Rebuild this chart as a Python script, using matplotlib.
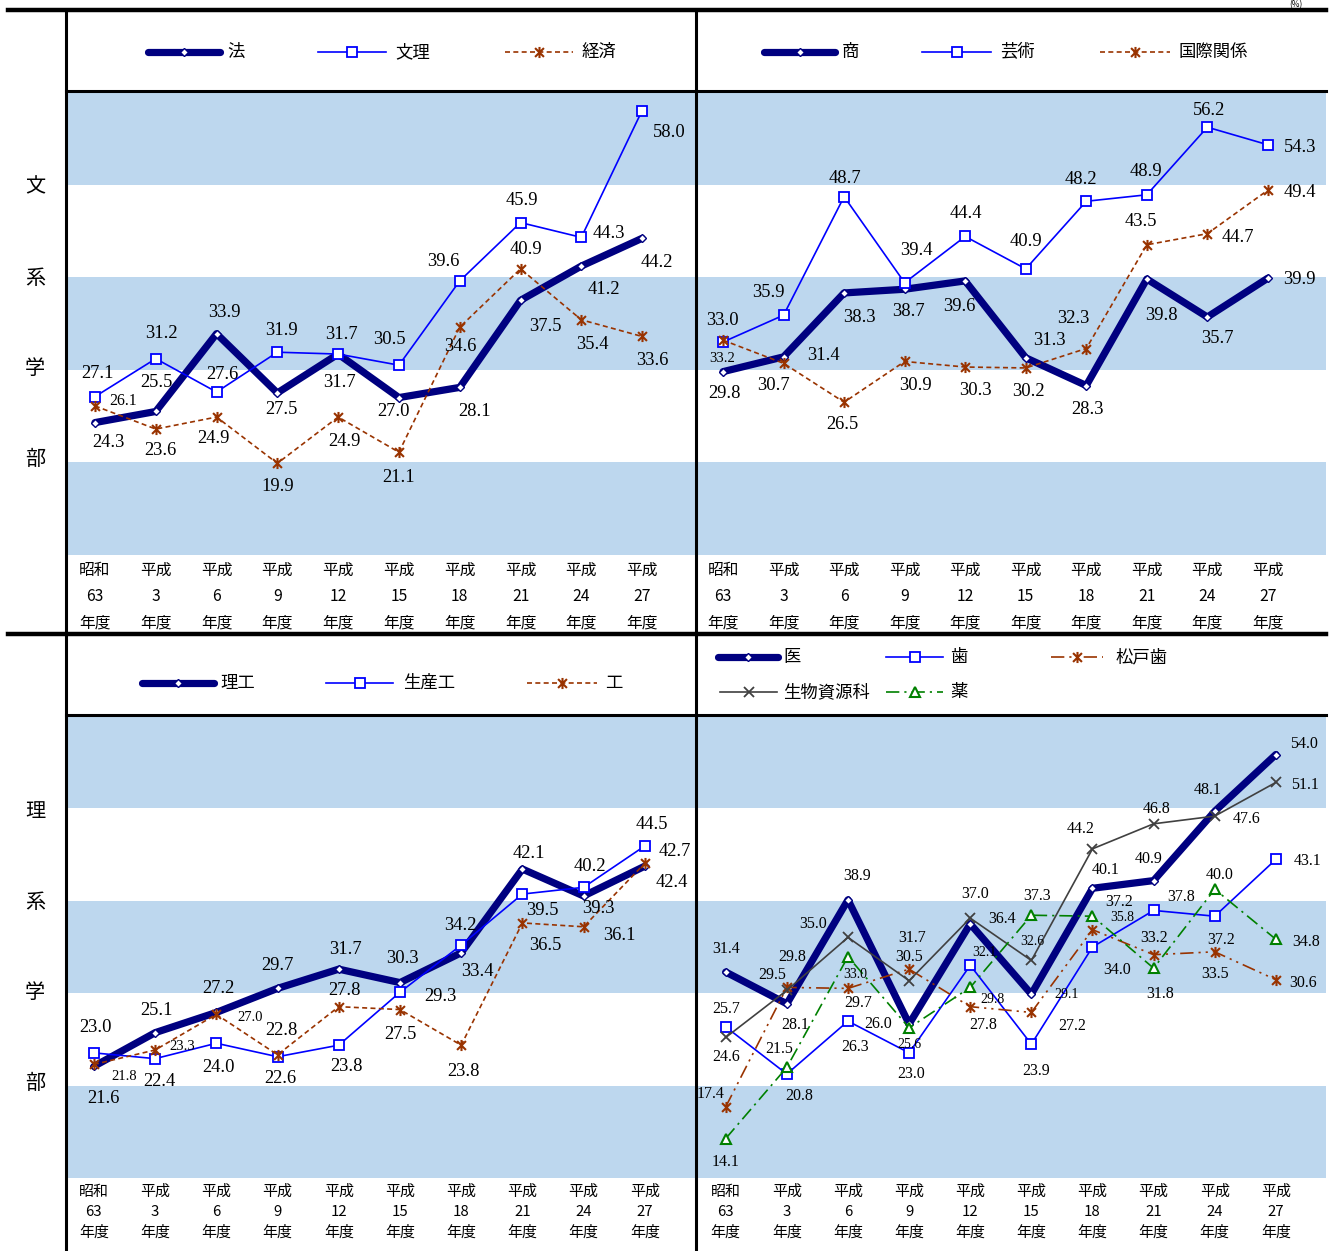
import matplotlib
matplotlib.use('Agg')
import matplotlib.pyplot as plt
from matplotlib.lines import Line2D
from matplotlib.patches import Rectangle
from matplotlib.path import Path

plt.rcParams['font.family'] = ['Noto Sans CJK JP', 'DejaVu Sans']

W, H = 1334, 1251
DPI = 100

# ---------------- data ----------------
years = ['昭和\n63\n年度', '平成\n3\n年度', '平成\n6\n年度', '平成\n9\n年度', '平成\n12\n年度',
         '平成\n15\n年度', '平成\n18\n年度', '平成\n21\n年度', '平成\n24\n年度', '平成\n27\n年度']

# 文系 (left)
hou = [24.3, 25.5, 33.9, 27.5, 31.7, 27.0, 28.1, 37.5, 41.2, 44.2]
bunri = [27.1, 31.2, 27.6, 31.9, 31.7, 30.5, 39.6, 45.9, 44.3, 58.0]
keizai = [26.1, 23.6, 24.9, 19.9, 24.9, 21.1, 34.6, 40.9, 35.4, 33.6]
# 文系 (right)
shou = [29.8, 31.4, 38.3, 38.7, 39.6, 31.3, 28.3, 39.8, 35.7, 39.9]
geijutsu = [33.0, 35.9, 48.7, 39.4, 44.4, 40.9, 48.2, 48.9, 56.2, 54.3]
kokusai = [33.2, 30.7, 26.5, 30.9, 30.3, 30.2, 32.3, 43.5, 44.7, 49.4]
# 理系 (left)
riko = [21.6, 25.1, 27.2, 29.7, 31.7, 30.3, 33.4, 42.1, 39.3, 42.4]
seisanko = [23.0, 22.4, 24.0, 22.6, 23.8, 29.3, 34.2, 39.5, 40.2, 44.5]
ko = [21.8, 23.3, 27.0, 22.8, 27.8, 27.5, 23.8, 36.5, 36.1, 42.7]
# 理系 (right)
igaku = [31.4, 28.1, 38.9, 26.0, 36.4, 29.1, 40.1, 40.9, 48.1, 54.0]
shika = [25.7, 20.8, 26.3, 23.0, 32.1, 23.9, 34.0, 37.8, 37.2, 43.1]
matsudo = [17.4, 29.8, 29.7, 31.7, 27.8, 27.2, 35.8, 33.2, 33.5, 30.6]
seibutsu = [24.6, 29.5, 35.0, 30.5, 37.0, 32.6, 44.2, 46.8, 47.6, 51.1]
yaku = [14.1, 21.5, 33.0, 25.6, 29.8, 37.3, 37.2, 31.8, 40.0, 34.8]

# ---------------- styles ----------------
NAVY = '#000080'
BLUE = '#0000FF'
BROWN = '#993300'
GRAY = '#404040'
GREEN = '#008000'
BAND = '#BDD7EE'
AST = Path([(-1, -1), (1, 1), (-1, 1), (1, -1), (0, -1.25), (0, 1.25)],
           [Path.MOVETO, Path.LINETO, Path.MOVETO, Path.LINETO, Path.MOVETO, Path.LINETO])

S_THICK = dict(color=NAVY, lw=5.2, marker='D', ms=4, mfc='white', mec=NAVY, mew=1.0,
               solid_capstyle='round')
S_BLUE = dict(color=BLUE, lw=1.2, marker='s', ms=6.5, mfc='white', mec=BLUE, mew=1.3)
S_BROWN = dict(color=BROWN, lw=1.2, ls=(0, (3, 2)), marker=AST, ms=8, mfc='none', mec=BROWN, mew=1.5)
S_GRAY = dict(color=GRAY, lw=1.2, marker='x', ms=7.5, mec=GRAY, mew=1.3)
S_MATSUDO = dict(color=BROWN, lw=1.2, ls=(0, (8, 3, 1.3, 3, 1.3, 3)), marker=AST, ms=8, mfc='none',
                 mec=BROWN, mew=1.5)
S_GREEN = dict(color=GREEN, lw=1.2, ls=(0, (8, 3, 1.3, 3)), marker='^', ms=6.5, mfc='white', mec=GREEN, mew=1.5)

SERIF = ['Liberation Serif', 'DejaVu Serif']

fig = plt.figure(figsize=(W / DPI, H / DPI), dpi=DPI)


def make_ax(x0, x1, y0, y1, ylim, xlim, tfs=11.3, tls=1.72, tpad=5):
    ax = fig.add_axes([x0 / W, 1 - y1 / H, (x1 - x0) / W, (y1 - y0) / H])
    ax.set_xlim(*xlim)
    ax.set_ylim(*ylim)
    for f in (0.0, 0.4, 0.8):
        ax.add_patch(Rectangle((0, f), 1, 0.2, transform=ax.transAxes, color=BAND, lw=0, zorder=0))
    for sp in ax.spines.values():
        sp.set_visible(False)
    ax.set_yticks([])
    ax.set_xticks(range(len(years)))
    ax.set_xticklabels(years, fontsize=tfs, linespacing=tls)
    ax.tick_params(axis='x', length=0, pad=tpad)
    return ax


def plot_series(ax, vals, style, offs, fs=13.3, small=(), small_fs=10.5, z=2):
    x = list(range(len(vals)))
    ax.plot(x, vals, zorder=z, clip_on=False, **style)
    for i, v in enumerate(vals):
        dx, dy = offs[i]
        ax.annotate(f'{v:.1f}', (i, v), xytext=(dx, -dy), textcoords='offset pixels',
                    ha='center', va='center', family=SERIF,
                    fontsize=(small_fs if i in small else fs), zorder=6, annotation_clip=False)


# ---------- top-left ----------
ax1 = make_ax(67, 695, 92, 555, (10, 60), (-0.46, 9.87))
plot_series(ax1, hou, S_THICK, [(13, 20), (1, -29), (8, -21), (4, 17), (1, 28), (-5, 14), (15, 24), (25, 26), (23, 23), (15, 24)])
plot_series(ax1, bunri, S_BLUE, [(3, -23), (6, -25), (6, -18), (4, -22), (3, -20), (-9, -26), (-16, -19), (1, -22), (28, -4), (27, 22)], z=3)
plot_series(ax1, keizai, S_BROWN, [(28, -5), (5, 21), (-3, 21), (0, 23), (6, 24), (0, 25), (1, 19), (5, -19), (11, 25), (10, 24)], small=(0,), small_fs=11.5, z=4)

# ---------- top-right ----------
ax2 = make_ax(697, 1326, 92, 555, (10, 60), (-0.43, 9.96))
plot_series(ax2, shou, S_THICK, [(1, 22), (40, -1), (15, 25), (4, 22), (-6, 26), (24, -17), (1, 24), (15, 36), (10, 21), (31, 1)])
plot_series(ax2, geijutsu, S_BLUE, [(-1, -22), (-15, -23), (1, -18), (12, -32), (1, -23), (0, -27), (-5, -22), (-1, -23), (2, -17), (32, 3)], z=3)
plot_series(ax2, kokusai, S_BROWN, [(-1, 18), (-10, 22), (-2, 22), (11, 24), (10, 23), (3, 24), (-13, -30), (-6, -23), (31, 4), (32, 2)], small=(0,), small_fs=10.5, z=4)

# ---------- bottom-left ----------
ax3 = make_ax(67, 695, 716, 1178, (10, 58), (-0.44, 9.82), tfs=10.8, tls=1.55, tpad=5)
plot_series(ax3, riko, S_THICK, [(10, 32), (1, -22), (2, -24), (0, -23), (7, -20), (2, -24), (16, 19), (6, -16), (15, 13), (27, 16)])
plot_series(ax3, seisanko, S_BLUE, [(2, -25), (4, 23), (2, 24), (3, 22), (8, 21), (40, 4), (-1, -20), (20, 16), (6, -21), (7, -21)], z=3)
plot_series(ax3, ko, S_BROWN, [(30, 12), (27, -3), (34, 3), (4, -24), (6, -16), (0, 25), (2, 26), (23, 23), (36, 9), (30, -12)], small=(0, 1, 2), small_fs=10.5, z=4)

# ---------- bottom-right ----------
ax4 = make_ax(697, 1326, 716, 1178, (10, 58), (-0.47, 9.82), tfs=10.8, tls=1.55, tpad=5)
FS4, SM4 = 11.5, 10
plot_series(ax4, igaku, S_THICK, [(0, -23), (8, 21), (9, -24), (-31, 0), (32, -5), (35, 0), (13, -18), (-5, -22), (-7, -21), (28, -10)], fs=FS4, small=(5,), small_fs=SM4)
plot_series(ax4, shika, S_BLUE, [(0, -18), (12, 22), (7, 26), (2, 21), (14, -13), (5, 27), (25, 23), (28, -13), (6, 24), (32, 2)], fs=FS4, small=(4,), small_fs=SM4, z=3)
plot_series(ax4, matsudo, S_MATSUDO, [(-15, -13), (5, -30), (10, 15), (3, -31), (13, 18), (41, 14), (30, -12), (0, -17), (0, 22), (27, 3)], fs=FS4, small=(6,), small_fs=SM4, z=4)
plot_series(ax4, seibutsu, S_GRAY, [(0, 20), (-15, -15), (-35, -13), (0, -24), (5, -24), (1, -19), (-12, -20), (3, -15), (32, 3), (29, 3)], fs=FS4, small=(5,), small_fs=SM4, z=4)
plot_series(ax4, yaku, S_GREEN, [(0, 23), (-8, -18), (7, 18), (0, 17), (22, 12), (6, -19), (27, -14), (7, 26), (5, -14), (30, 3)], fs=FS4, small=(2, 3, 4), small_fs=SM4, z=5)

# ---------------- overlay: frames, legends, labels ----------------
ov = fig.add_axes([0, 0, 1, 1], zorder=10)
ov.set_xlim(0, W)
ov.set_ylim(H, 0)
ov.axis('off')
ov.patch.set_alpha(0)

K = 'black'
ov.add_line(Line2D([8, 1326], [10, 10], color=K, lw=3.2))
ov.add_line(Line2D([8, 1326], [634, 634], color=K, lw=3.2))
ov.add_line(Line2D([66, 66], [10, H], color=K, lw=2.2))
ov.add_line(Line2D([696, 696], [10, H], color=K, lw=2.2))
ov.add_line(Line2D([66, 1326], [91, 91], color=K, lw=2.2))
ov.add_line(Line2D([66, 1326], [715, 715], color=K, lw=2.2))

ov.text(1296, 0.5, '(%)', ha='center', va='top', fontsize=6)


def leg(x0, x1, y, style, label, tx):
    ov.add_line(Line2D([x0, (x0 + x1) / 2, x1], [y, y, y], markevery=[1], **style))
    ov.text(tx, y, label, ha='left', va='center', fontsize=12.5)


leg(148, 220, 52, S_THICK, '法', 227)
leg(318, 386, 52, S_BLUE, '文理', 395)
leg(505, 573, 52, S_BROWN, '経済', 582)
leg(764, 835, 52, S_THICK, '商', 842)
leg(922, 991, 52, S_BLUE, '芸術', 1000)
leg(1100, 1170, 52, S_BROWN, '国際関係', 1178)

leg(142, 214, 683, S_THICK, '理工', 220)
leg(326, 393, 683, S_BLUE, '生産工', 403)
leg(527, 597, 683, S_BROWN, '工', 605)
leg(718, 778, 657, S_THICK, '医', 783)
leg(886, 943, 657, S_BLUE, '歯', 950)
leg(1051, 1103, 657, S_MATSUDO, '松戸歯', 1116)
leg(720, 777, 692, S_GRAY, '生物資源科', 783)
leg(886, 943, 692, S_GREEN, '薬', 950)

for ch, y in zip('文系学部', [187, 278, 369, 459]):
    ov.text(35, y, ch, ha='center', va='center', fontsize=14.5)
for ch, y in zip('理系学部', [811, 902, 992, 1083]):
    ov.text(35, y, ch, ha='center', va='center', fontsize=14.5)

fig.savefig('out.png', dpi=DPI)
